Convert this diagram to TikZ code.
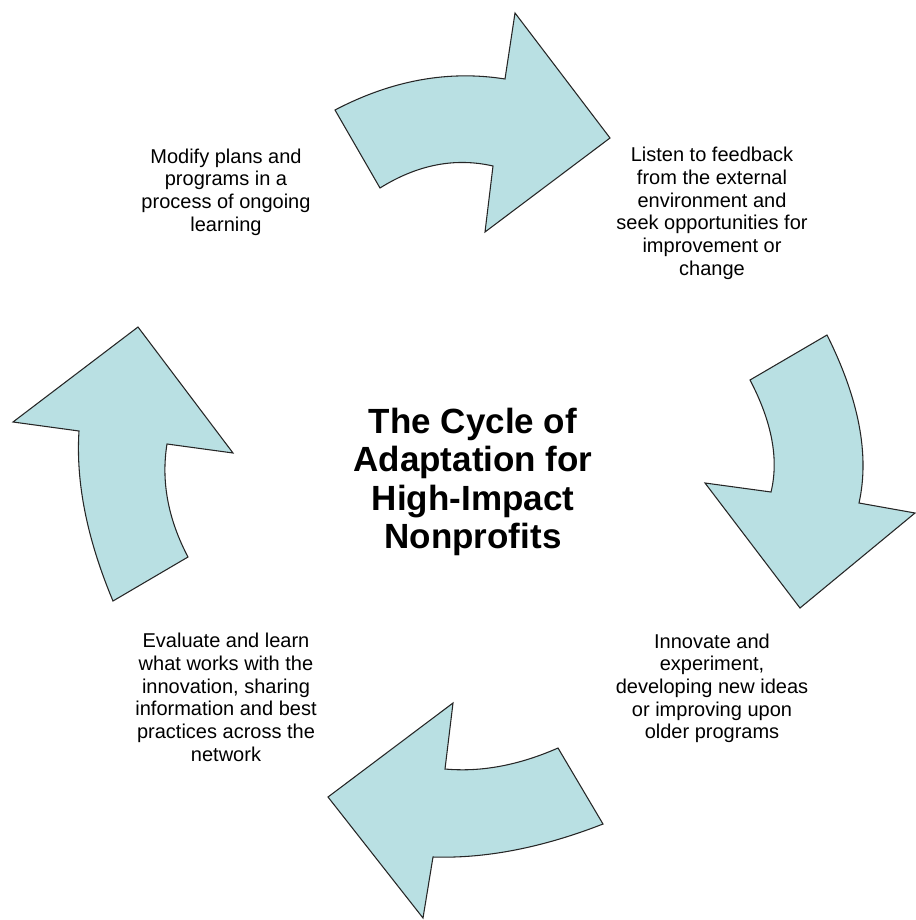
\documentclass[tikz,border=0pt]{standalone}
\usepackage{fontspec}
\setmainfont{Liberation Sans}
\begin{document}
\begin{tikzpicture}[x=0.75pt,y=-0.75pt,
  blockarrow/.style={fill=arrowfill,draw=black!85,line width=0.8pt,line join=miter},
  steptext/.style={align=center,inner sep=0pt,anchor=base,
    font=\fontsize{15}{17}\selectfont},
  titletext/.style={align=center,inner sep=0pt,anchor=base,
    font=\fontsize{26.25}{28.9}\selectfont\bfseries}]
\definecolor{arrowfill}{HTML}{B9E0E3}
\useasboundingbox (0,0) rectangle (916,920);

% curved block arrows, clockwise from the top
\draw[blockarrow] (335,110) .. controls (391.7,80.3) and (448.3,70) .. (505,79)
  -- (515,13) -- (610,138) -- (485,232) -- (493,166)
  .. controls (455,157.3) and (417.3,164.7) .. (380,188) -- cycle;
\draw[blockarrow] (827,335) .. controls (859,399) and (869.7,455) .. (859,503)
  -- (915,513) -- (800,608) -- (705,483) -- (771,492)
  .. controls (779,459.3) and (772,422) .. (750,380) -- cycle;
\draw[blockarrow] (558,748) -- (603,824)
  .. controls (542.3,847.7) and (485.7,858.7) .. (433,857)
  -- (423,918) -- (328,797) -- (453,703) -- (445,769)
  .. controls (481,772.3) and (518.7,765.3) .. (558,748) -- cycle;
\draw[blockarrow] (138,327) -- (233,453) -- (167,444)
  .. controls (161,481.3) and (168,519) .. (188,557)
  -- (113,601) .. controls (87,539) and (75.7,482.3) .. (79,431)
  -- (13,422) -- cycle;

% captions (each node sits on the baseline of its last line)
\node[titletext] (title) at (473,548.6) {The Cycle of\\Adaptation for\\High-Impact\\Nonprofits};
\node[steptext] (modify) at (226,231) {Modify plans and\\programs in a\\process of ongoing\\learning};
\node[steptext] (listen) at (712,275.3) {Listen to feedback\\from the external\\environment and\\seek opportunities for\\improvement or\\change};
\node[steptext] (innovate) at (712,738.7) {Innovate and\\experiment,\\developing new ideas\\or improving upon\\older programs};
\node[steptext] (evaluate) at (226,761.3) {Evaluate and learn\\what works with the\\innovation, sharing\\information and best\\practices across the\\network};
\end{tikzpicture}
\end{document}
